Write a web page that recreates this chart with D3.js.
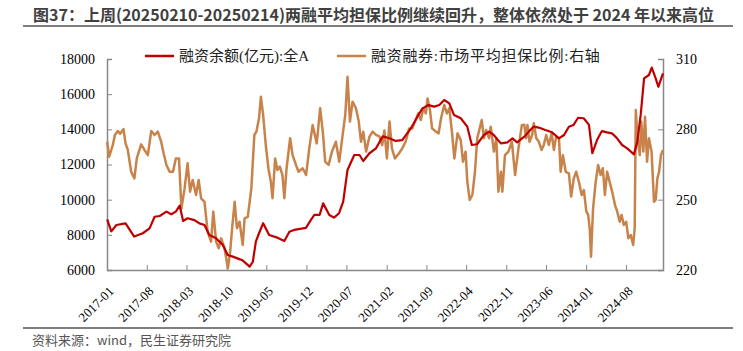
<!DOCTYPE html>
<html>
<head>
<meta charset="utf-8">
<script src="https://cdn.jsdelivr.net/npm/d3@7"></script>
<style>
  body { margin: 0; background: #fff; }
  svg { display: block; }
</style>
</head>
<body>
<div id="chart"></div>
<script>
// 融资余额(亿元):全A  -- left axis
var balanceDates = ["2017-01-02","2017-01-24","2017-02-20","2017-04-10","2017-05-26","2017-07-11","2017-08-16","2017-09-12","2017-10-09","2017-11-14","2017-12-10","2018-01-03","2018-01-24","2018-02-11","2018-03-07","2018-04-12","2018-05-09","2018-06-05","2018-07-01","2018-08-06","2018-09-11","2018-10-07","2018-11-03","2018-12-08","2018-12-25","2019-02-01","2019-02-18","2019-03-06","2019-03-23","2019-04-14","2019-05-16","2019-06-29","2019-08-05","2019-09-01","2019-09-26","2019-11-28","2019-12-24","2020-01-12","2020-02-09","2020-02-28","2020-04-01","2020-04-26","2020-05-23","2020-06-14","2020-07-07","2020-08-12","2020-09-09","2020-09-29","2020-11-01","2020-12-06","2021-01-11","2021-02-16","2021-03-21","2021-04-25","2021-06-10","2021-07-15","2021-08-11","2021-09-12","2021-10-12","2021-11-09","2021-12-05","2022-01-01","2022-01-26","2022-03-03","2022-04-07","2022-05-01","2022-05-29","2022-07-05","2022-08-01","2022-08-26","2022-10-03","2022-11-07","2022-12-04","2022-12-29","2023-02-05","2023-03-01","2023-03-26","2023-04-23","2023-05-28","2023-07-03","2023-08-09","2023-09-05","2023-10-01","2023-10-26","2023-11-19","2023-12-19","2024-01-16","2024-02-03","2024-02-28","2024-03-25","2024-04-21","2024-05-18","2024-06-14","2024-07-11","2024-08-07","2024-09-12","2024-09-30","2024-10-18","2024-11-05","2024-12-01","2024-12-16","2025-01-06","2025-01-20","2025-02-14"];
var balanceValues = [8880,8200,8560,8650,7900,8090,8370,9030,9070,9320,9170,9320,9660,8790,8940,8840,8650,8560,7990,7800,7420,6850,6760,6620,6550,6190,6470,7610,8090,8660,7990,7840,7650,8180,8280,8400,8840,9130,9130,9790,9130,8980,9230,9890,11690,12540,12540,12200,12640,12920,13600,13490,13340,13390,14060,14720,15190,15380,15290,15380,15670,15480,14820,14630,14150,13110,13150,13680,13870,13680,13200,13260,13490,13260,13580,13870,14150,14100,13960,13830,13490,13680,14150,14250,14660,14630,14250,12640,13390,13900,13830,13770,13490,13110,12920,12580,13300,14820,16900,17090,17510,16900,16420,17180];

// 融资融券:市场平均担保比例:右轴  -- right axis
var ratioDates = ["2017-01-02","2017-01-12","2017-02-01","2017-02-12","2017-02-28","2017-03-12","2017-03-30","2017-04-10","2017-04-22","2017-05-10","2017-05-27","2017-06-09","2017-07-02","2017-07-20","2017-08-07","2017-08-25","2017-09-12","2017-09-29","2017-10-17","2017-10-30","2017-11-14","2017-12-01","2017-12-19","2018-01-03","2018-01-20","2018-02-02","2018-02-19","2018-03-07","2018-03-20","2018-04-03","2018-04-21","2018-05-05","2018-05-18","2018-06-05","2018-06-22","2018-07-10","2018-07-22","2018-08-06","2018-08-20","2018-09-02","2018-09-20","2018-09-29","2018-10-08","2018-10-20","2018-11-01","2018-11-13","2018-11-25","2018-12-09","2018-12-26","2019-01-05","2019-01-22","2019-02-10","2019-02-26","2019-03-09","2019-03-23","2019-04-02","2019-04-14","2019-04-28","2019-05-12","2019-05-25","2019-06-03","2019-06-17","2019-06-29","2019-07-12","2019-07-26","2019-08-05","2019-08-17","2019-09-05","2019-09-18","2019-10-06","2019-10-20","2019-11-11","2019-11-29","2019-12-16","2020-01-03","2020-01-25","2020-02-12","2020-02-26","2020-03-10","2020-03-28","2020-04-15","2020-05-06","2020-05-24","2020-06-11","2020-06-25","2020-07-07","2020-07-20","2020-08-03","2020-08-21","2020-09-05","2020-09-17","2020-09-29","2020-10-14","2020-11-01","2020-11-18","2020-12-06","2020-12-24","2021-01-08","2021-01-20","2021-02-02","2021-02-16","2021-03-01","2021-03-17","2021-04-08","2021-04-25","2021-05-13","2021-06-01","2021-06-18","2021-07-02","2021-07-19","2021-08-02","2021-08-16","2021-08-29","2021-09-07","2021-09-20","2021-10-01","2021-10-22","2021-11-05","2021-11-18","2021-12-05","2021-12-19","2022-01-01","2022-01-15","2022-01-28","2022-02-14","2022-03-03","2022-03-15","2022-03-29","2022-04-07","2022-04-20","2022-05-04","2022-05-18","2022-05-30","2022-06-12","2022-06-23","2022-07-05","2022-07-17","2022-08-01","2022-08-10","2022-08-27","2022-09-09","2022-09-20","2022-10-03","2022-10-11","2022-10-25","2022-11-12","2022-12-01","2022-12-18","2023-01-05","2023-01-23","2023-02-05","2023-02-15","2023-02-22","2023-03-05","2023-03-19","2023-03-28","2023-04-10","2023-04-24","2023-05-08","2023-05-20","2023-06-02","2023-06-16","2023-07-01","2023-07-13","2023-07-25","2023-08-09","2023-08-18","2023-08-30","2023-09-14","2023-10-01","2023-10-13","2023-10-27","2023-11-09","2023-11-23","2023-12-08","2023-12-20","2024-01-02","2024-01-12","2024-01-20","2024-01-27","2024-02-07","2024-02-21","2024-03-05","2024-03-18","2024-03-30","2024-04-10","2024-04-22","2024-05-05","2024-05-19","2024-06-03","2024-06-15","2024-06-28","2024-07-08","2024-07-20","2024-08-02","2024-08-13","2024-08-26","2024-09-08","2024-09-16","2024-09-22","2024-10-01","2024-10-13","2024-10-21","2024-11-01","2024-11-10","2024-11-21","2024-12-01","2024-12-15","2024-12-28","2025-01-06","2025-01-15","2025-01-24","2025-02-03","2025-02-14"];
var ratioValues = [274.7,268.3,273.3,277.6,279.3,278.1,280.1,274.0,271.2,261.9,259.1,267.6,273.6,271.2,269.0,279.3,277.6,279.0,274.7,269.8,264.8,261.9,261.9,267.6,267.6,246.3,254.8,265.5,253.4,258.4,252.0,258.4,250.6,249.1,236.3,232.1,244.9,232.1,229.3,233.5,229.3,225.0,220.7,227.8,239.2,249.1,237.8,240.6,230.7,242.0,242.7,254.8,277.6,279.0,284.7,293.9,286.1,273.3,263.4,257.7,250.6,267.6,262.7,264.1,260.5,250.6,263.4,276.2,269.0,264.8,261.9,263.4,260.5,271.9,281.8,274.0,289.0,279.0,266.2,264.8,270.5,274.7,266.2,277.6,286.1,302.4,283.3,291.8,289.0,283.3,274.7,279.0,270.5,276.9,279.0,277.6,277.0,273.3,279.5,267.6,283.3,271.9,267.6,269.8,271.9,274.7,280.4,280.4,283.3,286.8,284.0,289.0,286.8,293.2,288.2,280.4,279.0,278.3,284.7,290.4,286.8,289.0,279.0,267.6,278.3,275.4,266.2,270.5,257.7,249.9,252.0,261.9,276.2,280.4,284.0,276.2,279.7,276.2,281.1,270.5,276.2,253.4,261.9,253.4,269.0,270.5,274.7,260.5,271.9,281.8,282.0,276.2,281.8,274.7,277.6,282.6,276.2,274.7,271.2,273.3,277.6,273.3,278.3,271.2,276.9,276.2,261.9,269.0,261.9,261.2,251.3,259.1,261.9,257.7,252.0,254.1,244.9,243.5,237.8,225.7,246.3,257.7,264.8,260.5,263.4,252.0,261.9,257.7,253.4,247.7,244.9,240.6,243.5,239.2,240.6,233.5,234.9,230.7,237.8,288.2,276.2,269.0,283.3,270.5,285.4,266.2,276.2,270.5,249.1,249.9,259.1,261.9,269.0,271.2];

var leftTicks = [6000, 8000, 10000, 12000, 14000, 16000, 18000];
var rightTicks = [220, 250, 280, 310];
var xTickLabels = ["2017-01","2017-08","2018-03","2018-10","2019-05","2019-12","2020-07","2021-02","2021-09","2022-04","2022-11","2023-06","2024-01","2024-08"];

var W = 743, H = 351;
var plot = {left: 107, right: 663, top: 59, bottom: 270};
var serif = "'Liberation Serif','Times New Roman',serif";
var cjk = "'Liberation Serif','Noto Sans CJK SC',serif";

var parse = d3.timeParse("%Y-%m-%d");
var parseMonth = d3.timeParse("%Y-%m");

var svg = d3.select("#chart").append("svg")
    .attr("width", W)
    .attr("height", H);

// title
svg.append("text")
    .attr("x", 33).attr("y", 21)
    .attr("font-family", "'Noto Sans CJK SC','Noto Sans',sans-serif")
    .attr("font-weight", "bold")
    .attr("font-size", 16)
    .attr("fill", "#404040")
    .text("图37：上周(20250210-20250214)两融平均担保比例继续回升，整体依然处于 2024 年以来高位");
svg.append("line")
    .attr("x1", 23).attr("x2", 733).attr("y1", 26).attr("y2", 26)
    .attr("stroke", "#555").attr("stroke-width", 1.5);

// scales
var x = d3.scaleTime()
    .domain([parse("2017-01-01"), parse("2025-02-14")])
    .range([plot.left, plot.right]);
var yL = d3.scaleLinear().domain([6000, 18000]).range([plot.bottom, plot.top]);
var yR = d3.scaleLinear().domain([220, 310]).range([plot.bottom, plot.top]);

// axes
function styleAxis(g) {
  g.select(".domain").attr("stroke", "#888").attr("stroke-width", 1.5);
  g.selectAll(".tick line").attr("stroke", "#888").attr("stroke-width", 1);
  g.selectAll("text").attr("fill", "#000").attr("font-family", serif).attr("font-size", 14);
}

var gL = svg.append("g")
    .attr("transform", "translate(" + plot.left + ",0)")
    .call(d3.axisLeft(yL).tickValues(leftTicks).tickSizeInner(-5).tickSizeOuter(-5).tickPadding(12).tickFormat(d3.format("d")));
styleAxis(gL);

var gR = svg.append("g")
    .attr("transform", "translate(" + plot.right + ",0)")
    .call(d3.axisRight(yR).tickValues(rightTicks).tickSizeInner(-5).tickSizeOuter(-5).tickPadding(13));
styleAxis(gR);

var gX = svg.append("g")
    .attr("transform", "translate(0," + plot.bottom + ")")
    .call(d3.axisBottom(x).tickValues(xTickLabels.map(parseMonth)).tickSizeInner(-5).tickSizeOuter(0).tickFormat(d3.timeFormat("%Y-%m")));
styleAxis(gX);
gX.selectAll("text")
    .attr("font-size", 13)
    .attr("text-anchor", "end")
    .attr("y", 0)
    .attr("dy", 0)
    .attr("transform", "translate(7,22) rotate(-45)");

// lines
var balanceData = balanceDates.map(function(d, i) { return {date: parse(d), value: balanceValues[i]}; });
var ratioData = ratioDates.map(function(d, i) { return {date: parse(d), value: ratioValues[i]}; });

svg.append("path")
    .datum(ratioData)
    .attr("fill", "none")
    .attr("stroke", "#C8834B")
    .attr("stroke-width", 2.5)
    .attr("stroke-linejoin", "round")
    .attr("d", d3.line().x(function(d) { return x(d.date); }).y(function(d) { return yR(d.value); }));

svg.append("path")
    .datum(balanceData)
    .attr("fill", "none")
    .attr("stroke", "#C00000")
    .attr("stroke-width", 2.2)
    .attr("stroke-linejoin", "round")
    .attr("d", d3.line().x(function(d) { return x(d.date); }).y(function(d) { return yL(d.value); }));

// legend
var legend = [
  {label: "融资余额(亿元):全A", color: "#C00000", x: 145, spacing: 0},
  {label: "融资融券:市场平均担保比例:右轴", color: "#C8834B", x: 337, spacing: 0.7}
];
legend.forEach(function(l) {
  svg.append("line")
      .attr("x1", l.x).attr("x2", l.x + 29).attr("y1", 56).attr("y2", 56)
      .attr("stroke", l.color).attr("stroke-width", 2.5);
  svg.append("text")
      .attr("x", l.x + 34).attr("y", 61)
      .attr("font-family", cjk)
      .attr("font-size", 15)
      .attr("letter-spacing", l.spacing)
      .attr("fill", "#222")
      .text(l.label);
});

// footer
svg.append("line")
    .attr("x1", 23).attr("x2", 733).attr("y1", 328).attr("y2", 328)
    .attr("stroke", "#555").attr("stroke-width", 1.5);
svg.append("text")
    .attr("x", 32).attr("y", 345)
    .attr("font-family", "'Noto Sans CJK SC','Noto Sans',sans-serif")
    .attr("font-size", 13)
    .attr("fill", "#555")
    .text("资料来源：wind，民生证券研究院");
</script>
</body>
</html>
